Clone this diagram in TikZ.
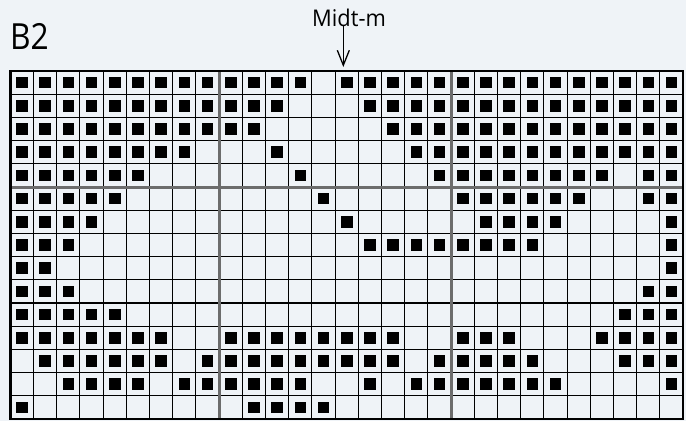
\documentclass[tikz,border=0pt]{standalone}
\usepackage{fontspec}
\setmainfont{Open Sans}
\usetikzlibrary{arrows.meta}
\definecolor{bgc}{RGB}{239,243,247}
\definecolor{majgray}{RGB}{108,108,108}
\begin{document}
\begin{tikzpicture}[x=1pt,y=-1pt,
  thinline/.style={line width=1.1pt,black},
  majline/.style={line width=3pt,draw=majgray},
  borderline/.style={line width=2.6pt,draw=black},
  stitch/.style={fill=black},
  arrowline/.style={line width=1.3pt,-{Straight Barb[length=15pt,width=12pt,line width=1.3pt]}}]
\fill[bgc] (0,0) rectangle (686,421);
\useasboundingbox (0,0) rectangle (686,421);
\def\gx{10.3}
\def\gy{71}
\def\cw{23.2}
% filled stitches: row / list of column ranges
\foreach \r/\rl in {
  1/{1/13,15/29},
  2/{1/12,16/29},
  3/{1/11,17/29},
  4/{1/8,12/12,18/29},
  5/{1/6,13/13,19/26,28/29},
  6/{1/5,14/14,20/25,28/29},
  7/{1/4,15/15,21/24,29/29},
  8/{1/3,16/23,29/29},
  9/{1/2,29/29},
  10/{1/3,28/29},
  11/{1/5,27/29},
  12/{1/7,10/17,20/22,26/29},
  13/{2/7,9/17,19/23,27/29},
  14/{3/6,8/13,16/16,18/24,29/29},
  15/{1/1,11/14}}{
  \foreach \a/\b in \rl {
    \foreach \c in {\a,...,\b} {
      \fill[stitch] ({\gx+(\c-0.5)*\cw-5.8},{\gy+(\r-0.5)*\cw-5.8}) rectangle +(11.6,11.6);
    }
  }
}
% thin grid lines
\foreach \i in {1,...,28} {
  \draw[thinline] ({\gx+\i*\cw},\gy) -- ({\gx+\i*\cw},{\gy+15*\cw});
}
\foreach \j in {1,...,14} {
  \draw[thinline] (\gx,{\gy+\j*\cw}) -- ({\gx+29*\cw},{\gy+\j*\cw});
}
% major (gray) lines
\draw[majline] ({\gx+9*\cw},\gy) -- ({\gx+9*\cw},{\gy+15*\cw});
\draw[majline] ({\gx+19*\cw},\gy) -- ({\gx+19*\cw},{\gy+15*\cw});
\draw[majline] (\gx,{\gy+5*\cw}) -- ({\gx+29*\cw},{\gy+5*\cw});
% border
\draw[borderline] (\gx,\gy) rectangle ({\gx+29*\cw},{\gy+15*\cw});
% labels
\node[anchor=base west,inner sep=0pt,font=\fontsize{36}{36}\selectfont] (title) at (10,49) {\scalebox{0.88}[1]{B2}};
\node[anchor=base,inner sep=0pt,font=\fontsize{23}{23}\selectfont] (midt) at (349,26) {\scalebox{0.95}[1]{Midt-m}};
\coordinate (mtip) at (343.3,67);
\draw[arrowline] (mtip |- midt.south) -- (mtip);
\end{tikzpicture}
\end{document}
